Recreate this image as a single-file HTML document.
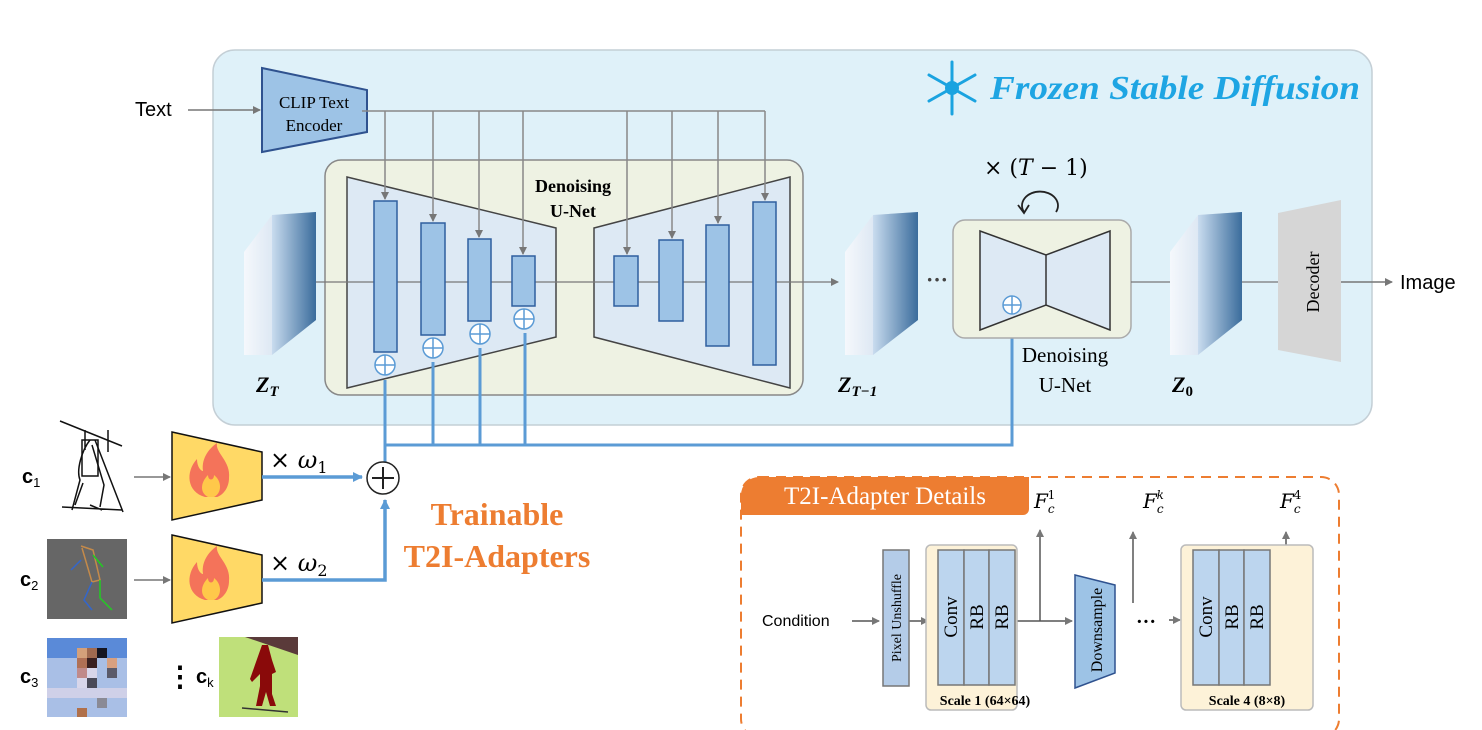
<!DOCTYPE html>
<html><head><meta charset="utf-8"><style>
body{margin:0;background:#fff}
svg{display:block;font-family:"Liberation Serif",serif}
</style></head><body>
<svg width="1482" height="730" viewBox="0 0 1482 730">
<defs>
<marker id="ag" markerWidth="8" markerHeight="8" refX="7" refY="4" orient="auto" markerUnits="userSpaceOnUse"><path d="M0,0L8,4L0,8z" fill="#777"/></marker>
<marker id="ab" markerWidth="10" markerHeight="10" refX="9" refY="5" orient="auto" markerUnits="userSpaceOnUse"><path d="M0,0L10,5L0,10z" fill="#5b9bd5"/></marker>
<linearGradient id="cf" x1="0" x2="1"><stop offset="0" stop-color="#c9dcef"/><stop offset="1" stop-color="#3a6c9c"/></linearGradient>
<linearGradient id="cs" x1="0" x2="1"><stop offset="0" stop-color="#f5f8fc"/><stop offset="1" stop-color="#b9cfe6"/></linearGradient>
</defs>
<rect x="213" y="50" width="1159" height="375" rx="22" fill="#dff1f9" stroke="#c4cfd6" stroke-width="1.5"/>
<text x="135" y="116" font-family="Liberation Sans,sans-serif" font-size="20">Text</text>
<line x1="188" y1="110" x2="260" y2="110" stroke="#777" stroke-width="1.5" marker-end="url(#ag)"/>
<polygon points="262,68 367,90 367,132 262,152" fill="#9dc3e6" stroke="#2f528f" stroke-width="2"/>
<text x="314" y="108" font-size="17" text-anchor="middle">CLIP Text</text>
<text x="314" y="131" font-size="17" text-anchor="middle">Encoder</text>
<rect x="325" y="160" width="478" height="235" rx="16" fill="#eef2e3" stroke="#888" stroke-width="1.5"/>
<polygon points="347,177 556,228 556,337 347,388" fill="#dde9f4" stroke="#444" stroke-width="1.5"/>
<polygon points="594,228 790,177 790,388 594,337" fill="#dde9f4" stroke="#444" stroke-width="1.5"/>
<line x1="316" y1="282" x2="838" y2="282" stroke="#777" stroke-width="1.2" marker-end="url(#ag)"/>
<g fill="#9dc3e6" stroke="#2f5f9f" stroke-width="1.5">
<rect x="374" y="201" width="23" height="151"/>
<rect x="421" y="223" width="24" height="112"/>
<rect x="468" y="239" width="23" height="82"/>
<rect x="512" y="256" width="23" height="50"/>
<rect x="614" y="256" width="24" height="50"/>
<rect x="659" y="240" width="24" height="81"/>
<rect x="706" y="225" width="23" height="121"/>
<rect x="753" y="202" width="23" height="163"/>
</g>
<g stroke="#888" stroke-width="1.5" fill="none">
<line x1="362" y1="111" x2="765" y2="111"/>
<line x1="385" y1="111" x2="385" y2="199" marker-end="url(#ag)"/>
<line x1="433" y1="111" x2="433" y2="221" marker-end="url(#ag)"/>
<line x1="479" y1="111" x2="479" y2="237" marker-end="url(#ag)"/>
<line x1="523" y1="111" x2="523" y2="254" marker-end="url(#ag)"/>
<line x1="627" y1="111" x2="627" y2="254" marker-end="url(#ag)"/>
<line x1="672" y1="111" x2="672" y2="238" marker-end="url(#ag)"/>
<line x1="718" y1="111" x2="718" y2="223" marker-end="url(#ag)"/>
<line x1="765" y1="111" x2="765" y2="200" marker-end="url(#ag)"/>
</g>
<text x="573" y="192" font-size="18" font-weight="bold" text-anchor="middle">Denoising</text>
<text x="573" y="217" font-size="18" font-weight="bold" text-anchor="middle">U-Net</text>
<g stroke="#5b9bd5" stroke-width="3" fill="none">
<polyline points="385,445 1012,445 1012,320"/>
<line x1="385" y1="465" x2="385" y2="380"/>
<line x1="433" y1="445" x2="433" y2="362"/>
<line x1="480" y1="445" x2="480" y2="348"/>
<line x1="525" y1="445" x2="525" y2="333"/>
</g>
<g fill="#fff" stroke="#5b9bd5" stroke-width="1.5">
<circle cx="385" cy="365" r="10"/><circle cx="433" cy="348" r="10"/><circle cx="480" cy="334" r="10"/><circle cx="524" cy="319" r="10"/>
</g>
<g stroke="#5b9bd5" stroke-width="1.5">
<path d="M375,365h20M385,355v20M423,348h20M433,338v20M470,334h20M480,324v20M514,319h20M524,309v20"/>
</g>
<g>
<polygon points="244,252 272,215 316,212 316,320 272,355 244,355" fill="url(#cs)"/>
<polygon points="272,215 316,212 316,320 272,355" fill="url(#cf)"/>
<polygon points="845,252 873,215 918,212 918,320 873,355 845,355" fill="url(#cs)"/>
<polygon points="873,215 918,212 918,320 873,355" fill="url(#cf)"/>
<polygon points="1170,252 1198,215 1242,212 1242,320 1198,355 1170,355" fill="url(#cs)"/>
<polygon points="1198,215 1242,212 1242,320 1198,355" fill="url(#cf)"/>
</g>
<text x="256" y="392" font-size="22" font-weight="bold" font-style="italic">Z<tspan font-size="15" dy="4">T</tspan></text>
<text x="838" y="392" font-size="22" font-weight="bold" font-style="italic">Z<tspan font-size="15" dy="4">T−1</tspan></text>
<text x="1172" y="392" font-size="22" font-weight="bold" font-style="italic">Z<tspan font-size="15" dy="4" font-style="normal">0</tspan></text>
<text x="926" y="287" font-size="22" font-weight="bold" fill="#444">···</text>
<rect x="953" y="220" width="178" height="118" rx="12" fill="#eef2e3" stroke="#aaa" stroke-width="1.5"/>
<polygon points="980,231 1046,255 1110,231 1110,330 1046,305 980,330" fill="#dde9f4" stroke="#333" stroke-width="1.5"/>
<line x1="1046" y1="255" x2="1046" y2="305" stroke="#333" stroke-width="1.5"/>
<circle cx="1012" cy="305" r="9" fill="#fff" stroke="#5b9bd5" stroke-width="1.5"/>
<path d="M1003,305h18M1012,296v18" stroke="#5b9bd5" stroke-width="1.5"/>
<text x="984" y="175" font-size="22" font-family="DejaVu Serif,serif">× (<tspan font-style="italic">T</tspan> − 1)</text>
<path d="M1024,212 A18,14 0 1 1 1056,212" fill="none" stroke="#222" stroke-width="1.8"/>
<path d="M1018,205 l6,8 l5,-8" fill="none" stroke="#222" stroke-width="1.8"/>
<text x="1065" y="362" font-size="21" text-anchor="middle">Denoising</text>
<text x="1065" y="392" font-size="21" text-anchor="middle">U-Net</text>
<line x1="1131" y1="282" x2="1170" y2="282" stroke="#777" stroke-width="1.2"/>
<line x1="1242" y1="282" x2="1278" y2="282" stroke="#777" stroke-width="1.2"/>
<polygon points="1278,213 1341,200 1341,362 1278,350" fill="#d6d6d6"/>
<text x="1313" y="282" font-size="18" text-anchor="middle" transform="rotate(-90 1313 282)" dy="6">Decoder</text>
<line x1="1341" y1="282" x2="1392" y2="282" stroke="#777" stroke-width="1.5" marker-end="url(#ag)"/>
<text x="1400" y="289" font-family="Liberation Sans,sans-serif" font-size="20">Image</text>
<g stroke="#1aa3e0" stroke-width="3" stroke-linecap="round">
<path d="M952,62v52M929,75l46,26M929,101l46,-26"/>
</g>
<circle cx="952" cy="88" r="7" fill="#1aa3e0"/>
<text x="990" y="99" font-size="34" font-weight="bold" font-style="italic" fill="#1ea5e3" textLength="370" lengthAdjust="spacingAndGlyphs">Frozen Stable Diffusion</text>
<polygon points="172,432 262,452 262,500 172,520" fill="#ffd966" stroke="#111" stroke-width="1.5"/>
<polygon points="172,535 262,555 262,603 172,623" fill="#ffd966" stroke="#111" stroke-width="1.5"/>
<g>
<path d="M205,497 c-18,-5 -20,-25 -8,-38 c0,8 4,12 6,12 c-2,-14 8,-24 14,-28 c-2,10 14,18 12,35 c0,10 -6,17 -12,19z" fill="#f4735a"/>
<path d="M208,497 c-8,-4 -8,-14 0,-22 c0,6 6,6 6,0 c8,6 8,18 0,22z" fill="#ffc84a"/>
<path d="M205,600 c-18,-5 -20,-25 -8,-38 c0,8 4,12 6,12 c-2,-14 8,-24 14,-28 c-2,10 14,18 12,35 c0,10 -6,17 -12,19z" fill="#f4735a"/>
<path d="M208,600 c-8,-4 -8,-14 0,-22 c0,6 6,6 6,0 c8,6 8,18 0,22z" fill="#ffc84a"/>
</g>
<line x1="134" y1="477" x2="170" y2="477" stroke="#777" stroke-width="1.5" marker-end="url(#ag)"/>
<line x1="134" y1="580" x2="170" y2="580" stroke="#777" stroke-width="1.5" marker-end="url(#ag)"/>
<g stroke="#5b9bd5" stroke-width="3.5" fill="none">
<line x1="262" y1="477" x2="362" y2="477" marker-end="url(#ab)"/>
<polyline points="262,580 385,580 385,500" marker-end="url(#ab)"/>
</g>
<circle cx="383" cy="478" r="16" fill="#fff" stroke="#222" stroke-width="1.5"/>
<path d="M372,478h22M383,467v22" stroke="#222" stroke-width="2"/>
<text x="270" y="468" font-size="24" font-family="DejaVu Serif,serif">× <tspan font-style="italic">ω</tspan><tspan font-size="16" dy="5">1</tspan></text>
<text x="270" y="571" font-size="24" font-family="DejaVu Serif,serif">× <tspan font-style="italic">ω</tspan><tspan font-size="16" dy="5">2</tspan></text>
<text x="497" y="525" font-size="32" font-weight="bold" fill="#ed7d31" text-anchor="middle">Trainable</text>
<text x="497" y="567" font-size="32" font-weight="bold" fill="#ed7d31" text-anchor="middle">T2I-Adapters</text>
<g font-family="Liberation Sans,sans-serif" font-weight="bold" font-size="20">
<text x="22" y="483">c<tspan font-size="13" font-weight="normal" dy="4">1</tspan></text>
<text x="20" y="586">c<tspan font-size="13" font-weight="normal" dy="4">2</tspan></text>
<text x="20" y="683">c<tspan font-size="13" font-weight="normal" dy="4">3</tspan></text>
<text x="196" y="683">c<tspan font-size="13" font-weight="normal" dy="4">k</tspan></text>
</g>
<g stroke="#111" stroke-width="1.5" fill="none">
<path d="M60,421l62,25M108,430v22M85,430v20M90,440c-8,10 -14,30 -10,40l-8,30M92,445l12,40l-4,22M95,440l28,72M75,505l8,-22M62,507l60,3M90,505l12,5"/>
<rect x="82" y="440" width="16" height="36"/>
</g>
<rect x="47" y="539" width="80" height="80" fill="#666"/>
<g fill="none" stroke-width="1.5">
<path d="M81,546l12,4l7,30l-8,2l-10,-34" stroke="#c48a4a"/>
<path d="M93,555l10,12" stroke="#2c2"/><path d="M100,580l0,18l12,12" stroke="#2c2"/>
<path d="M81,560l-10,10" stroke="#36c"/><path d="M92,582l-8,18l8,10" stroke="#36c"/>
</g>
<g>
<rect x="47" y="638" width="80" height="79" fill="#a9bfe6"/>
<rect x="47" y="638" width="80" height="20" fill="#5a8ad8"/>
<rect x="77" y="648" width="10" height="10" fill="#d4a07a"/><rect x="87" y="648" width="10" height="10" fill="#a06a50"/><rect x="97" y="648" width="10" height="10" fill="#151520"/>
<rect x="77" y="658" width="10" height="10" fill="#b07055"/><rect x="87" y="658" width="10" height="10" fill="#3a2020"/><rect x="107" y="658" width="10" height="10" fill="#d8a080"/>
<rect x="77" y="668" width="20" height="20" fill="#d8d6ea"/><rect x="77" y="668" width="10" height="10" fill="#c08a8a"/><rect x="107" y="668" width="10" height="10" fill="#5a5a6a"/>
<rect x="87" y="678" width="10" height="10" fill="#4a4a58"/><rect x="47" y="688" width="80" height="10" fill="#cfd0e8"/>
<rect x="97" y="698" width="10" height="10" fill="#8a8a95"/><rect x="77" y="708" width="10" height="9" fill="#b0704a"/>
</g>
<text x="166" y="686" font-size="28" font-weight="bold">⋮</text>
<rect x="219" y="637" width="79" height="80" fill="#bfe07a"/>
<polygon points="245,637 298,637 298,655" fill="#5a3a3a"/>
<path d="M262,645l6,0l4,15l4,12l-4,2l0,20l4,12l-6,0l-4,-14l-4,14l-6,0l4,-20l0,-12l-8,8l-2,-3z" fill="#8a0a0a"/>
<line x1="242" y1="708" x2="288" y2="712" stroke="#333" stroke-width="1.5"/>
<rect x="741" y="477" width="598" height="260" rx="18" fill="none" stroke="#ed7d31" stroke-width="2" stroke-dasharray="10,7"/>
<path d="M741,495a18,18 0 0 1 18,-18h270v32a6,6 0 0 1 -6,6h-282z" fill="#ed7d31"/>
<text x="885" y="504" font-size="25" fill="#fff" text-anchor="middle">T2I-Adapter Details</text>
<text x="762" y="626" font-family="Liberation Sans,sans-serif" font-size="16">Condition</text>
<g stroke="#555" stroke-width="1.5" fill="none">
<line x1="852" y1="621" x2="879" y2="621" marker-end="url(#ag)"/>
<line x1="908" y1="621" x2="928" y2="621" marker-end="url(#ag)"/>
<polyline points="1009,621 1072,621" marker-end="url(#ag)"/>
<line x1="1040" y1="621" x2="1040" y2="530" marker-end="url(#ag)"/>
<line x1="1133" y1="603" x2="1133" y2="532" marker-end="url(#ag)"/>
<line x1="1169" y1="620" x2="1180" y2="620" marker-end="url(#ag)"/>
<polyline points="1270,621 1286,621 1286,532" marker-end="url(#ag)"/>
</g>
<rect x="883" y="550" width="26" height="136" fill="#b4cce8" stroke="#777" stroke-width="1.5"/>
<text x="896" y="618" font-size="14" text-anchor="middle" dy="5" transform="rotate(-90 896 618)">Pixel Unshuffle</text>
<rect x="926" y="545" width="91" height="165" rx="5" fill="#fdf2d8" stroke="#bbb" stroke-width="1.5"/>
<rect x="1181" y="545" width="132" height="165" rx="5" fill="#fdf2d8" stroke="#bbb" stroke-width="1.5"/>
<g fill="#bcd5ee" stroke="#777" stroke-width="1.5">
<rect x="938" y="550" width="26" height="135"/><rect x="964" y="550" width="25" height="135"/><rect x="989" y="550" width="26" height="135"/>
<rect x="1193" y="550" width="26" height="135"/><rect x="1219" y="550" width="25" height="135"/><rect x="1244" y="550" width="26" height="135"/>
</g>
<g font-size="19" text-anchor="middle">
<text transform="translate(951,617) rotate(-90)" dy="6">Conv</text>
<text transform="translate(977,617) rotate(-90)" dy="6">RB</text>
<text transform="translate(1002,617) rotate(-90)" dy="6">RB</text>
<text transform="translate(1206,617) rotate(-90)" dy="6">Conv</text>
<text transform="translate(1232,617) rotate(-90)" dy="6">RB</text>
<text transform="translate(1257,617) rotate(-90)" dy="6">RB</text>
</g>
<text x="985" y="705" font-size="14" font-weight="bold" text-anchor="middle">Scale 1 (64×64)</text>
<text x="1247" y="705" font-size="14" font-weight="bold" text-anchor="middle">Scale 4 (8×8)</text>
<polygon points="1075,575 1115,585 1115,673 1075,688" fill="#9dc3e6" stroke="#2f528f" stroke-width="1.5"/>
<text transform="translate(1097,630) rotate(-90)" font-size="16" text-anchor="middle" dy="5">Downsample</text>
<text x="1136" y="628" font-size="20" font-weight="bold">···</text>
<g font-size="20" font-style="italic" font-family="DejaVu Serif,serif">
<text x="1034" y="508">F<tspan font-size="12" dy="5">c</tspan><tspan font-size="12" dx="-7" dy="-14" font-style="normal">1</tspan></text>
<text x="1143" y="508">F<tspan font-size="12" dy="5">c</tspan><tspan font-size="12" dx="-7" dy="-14">k</tspan></text>
<text x="1280" y="508">F<tspan font-size="12" dy="5">c</tspan><tspan font-size="12" dx="-7" dy="-14" font-style="normal">4</tspan></text>
</g>
</svg>
</body></html>
